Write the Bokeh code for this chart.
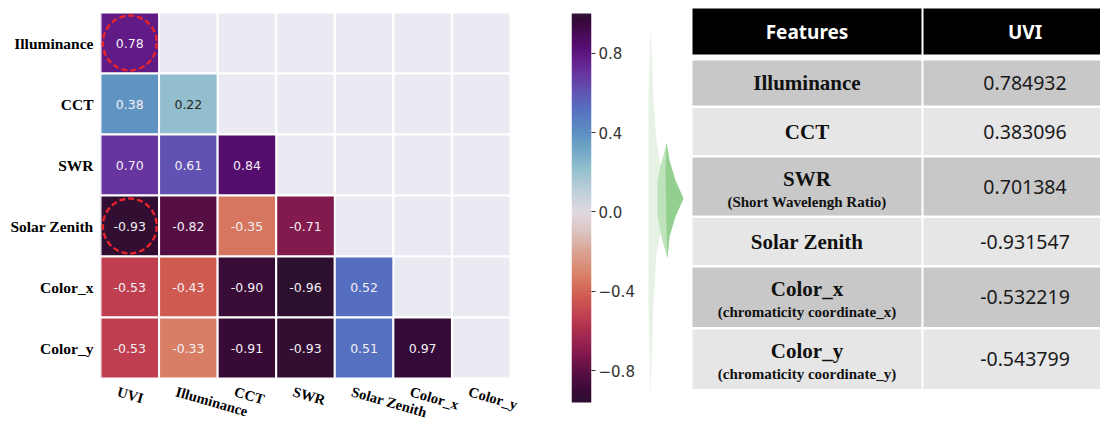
import numpy as np
from bokeh.plotting import figure
from bokeh.layouts import row
from bokeh.models import Range1d, FixedTicker, LinearColorMapper, ColumnDataSource
from bokeh.embed import file_html
from bokeh.resources import INLINE
from bokeh.core.properties import value

# ---------------- data ----------------
row_labels = ["Illuminance", "CCT", "SWR", "Solar Zenith", "Color_x", "Color_y"]
col_labels = ["UVI", "Illuminance", "CCT", "SWR", "Solar Zenith", "Color_x", "Color_y"]

corr_illuminance = [0.78]
corr_cct = [0.38, 0.22]
corr_swr = [0.70, 0.61, 0.84]
corr_solar_zenith = [-0.93, -0.82, -0.35, -0.71]
corr_color_x = [-0.53, -0.43, -0.90, -0.96, 0.52]
corr_color_y = [-0.53, -0.33, -0.91, -0.93, 0.51, 0.97]
corr_lower = [corr_illuminance, corr_cct, corr_swr, corr_solar_zenith, corr_color_x, corr_color_y]

highlight_cells = [("UVI", "Illuminance"), ("UVI", "Solar Zenith")]

cbar_low, cbar_high = -0.96, 1.0
cbar_ticks = [-0.8, -0.4, 0.0, 0.4, 0.8]

table_header = ["Features", "UVI"]
table_features = ["Illuminance", "CCT", "SWR", "Solar Zenith", "Color_x", "Color_y"]
table_notes = ["", "", "(Short Wavelengh Ratio)", "",
               "(chromaticity coordinate_x)", "(chromaticity coordinate_y)"]
table_uvi = [0.784932, 0.383096, 0.701384, -0.931547, -0.532219, -0.543799]

# ---------------- colour map (twilight-like) ----------------
cmap_vals = [-0.96, -0.90, -0.82, -0.71, -0.60, -0.53, -0.43, -0.33, -0.20, -0.10, 0.0,
             0.10, 0.22, 0.30, 0.38, 0.52, 0.61, 0.70, 0.78, 0.84, 0.92, 0.97, 1.0]
cmap_cols = ["#2d1030", "#3a0a38", "#560e42", "#851a4e", "#aa2d4f", "#bf3f50", "#cf5a50",
             "#d87e64", "#d9a393", "#dcc4c0", "#e0d9e1", "#c0d0da", "#93bfcd", "#77aac8",
             "#5f95c2", "#566fc0", "#6153b3", "#67359f", "#611c88", "#560d70", "#420b50",
             "#360838", "#2f1436"]


def h2rgb(h):
    h = h.lstrip("#")
    return [int(h[i:i + 2], 16) for i in (0, 2, 4)]


anchor_rgb = np.array([h2rgb(c) for c in cmap_cols], dtype=float)
palette = []
for t in np.linspace(cbar_low, cbar_high, 256):
    rgb = [int(round(np.interp(t, cmap_vals, anchor_rgb[:, k]))) for k in range(3)]
    palette.append("#%02x%02x%02x" % tuple(rgb))
mapper = LinearColorMapper(palette=palette, low=cbar_low, high=cbar_high)


def text_color_for(v):
    idx = int(round((v - cbar_low) / (cbar_high - cbar_low) * 255))
    idx = min(max(idx, 0), 255)
    r, g, b = [c / 255 for c in h2rgb(palette[idx])]
    lin = [(c / 12.92) if c <= 0.04045 else ((c + 0.055) / 1.055) ** 2.4 for c in (r, g, b)]
    lum = 0.2126 * lin[0] + 0.7152 * lin[1] + 0.0722 * lin[2]
    return "#262626" if lum > 0.408 else "#f4eff4"


# ---------------- layout constants (pixels) ----------------
H = 419
hm_w, cb_w = 560, 80
hm_left, cell_w, cell_h, cells_top = 100, 410 / 7, 61, 12

n_cols, n_rows = len(col_labels), len(row_labels)

# ---------------- heatmap ----------------
xs, ys, vs, labs, tcs = [], [], [], [], []
for i, vals in enumerate(corr_lower):
    for j, v in enumerate(vals):
        xs.append(j + 0.5)
        ys.append(i + 0.5)
        vs.append(v)
        labs.append(f"{v:.2f}")
        tcs.append(text_color_for(v))
src = ColumnDataSource(dict(x=xs, y=ys, v=vs, label=labs, tc=tcs))

x_end = (hm_w - hm_left) / cell_w
y_top = -cells_top / cell_h
y_bot = (H - cells_top) / cell_h
hm = figure(width=hm_w, height=H, x_range=Range1d(0, x_end), y_range=Range1d(y_bot, y_top),
            toolbar_location=None, output_backend="svg", x_axis_location=None,
            min_border_left=hm_left, min_border_right=0, min_border_top=0, min_border_bottom=0)
hm.background_fill_color = "white"
hm.border_fill_color = "white"
hm.outline_line_color = None
hm.grid.visible = False

# empty background cells
bgx = [j + 0.5 for i in range(n_rows) for j in range(n_cols)]
bgy = [i + 0.5 for i in range(n_rows) for j in range(n_cols)]
hm.rect(x=bgx, y=bgy, width=1, height=1, fill_color="#eaeaf2", line_color="white", line_width=2)

hm.rect(x="x", y="y", width=1, height=1, source=src,
        fill_color={"field": "v", "transform": mapper}, line_color="white", line_width=2)
hm.text(x="x", y="y", text="label", text_color="tc", source=src,
        text_align="center", text_baseline="middle",
        text_font=value("DejaVu Sans"), text_font_size="12.5px")

hx = [col_labels.index(c) + 0.5 for c, r in highlight_cells]
hy = [row_labels.index(r) + 0.5 for c, r in highlight_cells]
hm.ellipse(x=hx, y=hy, width=0.92, height=0.9, fill_color=None,
           line_color="#e8242a", line_width=2.4, line_dash="6 3")

hm.yaxis.ticker = FixedTicker(ticks=[i + 0.5 for i in range(n_rows)])
hm.yaxis.major_label_overrides = {i + 0.5: lab for i, lab in enumerate(row_labels)}
hm.yaxis.major_label_text_font = "Liberation Serif"
hm.yaxis.major_label_text_font_style = "bold"
hm.yaxis.major_label_text_font_size = "15.5px"
hm.yaxis.major_label_text_color = "black"
hm.yaxis.axis_line_color = None
hm.yaxis.major_tick_line_color = None
hm.yaxis.minor_tick_line_color = None
hm.yaxis.major_tick_out = 0
hm.yaxis.major_tick_in = 0
hm.yaxis.major_label_standoff = 7

# rotated column labels under the grid
hm.text(x=[j + 0.5 for j in range(n_cols)], y=[n_rows] * n_cols, text=col_labels,
        angle=-0.28, text_align="left", text_baseline="top", x_offset=-10, y_offset=5,
        text_font=value("Liberation Serif"), text_font_style="bold",
        text_font_size="14.5px", text_color="black")

# ---------------- colour bar ----------------
cb_top, cb_bot = 13, 402
ppu = (cb_bot - cb_top) / (cbar_high - cbar_low)
cb = figure(width=cb_w, height=H, x_range=Range1d(0, 1),
            y_range=Range1d(cbar_low - (H - cb_bot) / ppu, cbar_high + cb_top / ppu),
            toolbar_location=None, output_backend="svg", x_axis_location=None,
            y_axis_location="right",
            min_border_left=11, min_border_right=49, min_border_top=0, min_border_bottom=0)
grad = np.linspace(cbar_low, cbar_high, 256).reshape(256, 1)
cb.image(image=[grad], x=0, y=cbar_low, dw=1, dh=cbar_high - cbar_low, color_mapper=mapper)
cb.grid.visible = False
cb.outline_line_color = None
cb.yaxis.ticker = FixedTicker(ticks=cbar_ticks)
cb.yaxis.major_label_overrides = {t: (f"{t:.1f}".replace("-", "\u2212")) for t in cbar_ticks}
cb.yaxis.major_label_text_font = "DejaVu Sans"
cb.yaxis.major_label_text_font_size = "15px"
cb.yaxis.major_label_text_color = "#333333"
cb.yaxis.axis_line_color = None
cb.yaxis.major_tick_line_color = "#333333"
cb.yaxis.major_tick_out = 4
cb.yaxis.major_tick_in = 0
cb.yaxis.minor_tick_line_color = None
cb.yaxis.major_label_standoff = 3

# ---------------- table ----------------
page_left, page_right = hm_w + cb_w, 1100
tb = figure(width=page_right - page_left, height=H,
            x_range=Range1d(page_left, page_right), y_range=Range1d(H, 0),
            toolbar_location=None, output_backend="svg",
            x_axis_location=None, y_axis_location=None, min_border=0)
tb.grid.visible = False
tb.outline_line_color = None

# decorative green arrow (faint sliver + arrow head, darker towards the tip)
tb.patch([650, 653, 656, 660, 663, 666, 669, 675, 683, 675, 669, 667, 663, 660, 656, 653, 650, 648, 648],
         [25, 100, 140, 165, 155, 142, 160, 180, 198, 216, 236, 258, 244, 232, 255, 300, 395, 300, 100],
         fill_color="#cde8c9", fill_alpha=0.5, line_color=None)
tb.patch([660, 663, 666, 669, 675, 683, 675, 669, 667, 663, 660, 657, 657],
         [165, 155, 142, 160, 180, 198, 216, 236, 258, 244, 232, 215, 180],
         fill_color="#a4d79f", fill_alpha=0.6, line_color=None)
tb.patch([666, 669, 675, 683, 675, 669, 667, 666, 665],
         [142, 160, 180, 198, 216, 236, 258, 225, 172],
         fill_color="#7cc478", fill_alpha=0.65, line_color=None)

t_left, t_split, t_right = 692, 922, 1126
head_top, head_h, first_gap, gap = 8, 46, 6, 2.5
row_heights = [45, 47, 58, 47, 59.5, 59.5]
row_fills = ["#c8c8c8", "#e6e6e6"]

head_bottom = head_top + head_h
tb.quad(left=[t_left, t_split + 1], right=[t_split - 1, t_right],
        top=[head_top] * 2, bottom=[head_bottom] * 2, fill_color="black", line_color=None)
c1 = (t_left + t_split - 1) / 2
c2 = (t_split + 1 + t_right) / 2
tb.text(x=[c1, c2], y=[(head_top + head_bottom) / 2] * 2, text=table_header,
        text_color="white", text_font=value("Noto Sans"), text_font_style="bold",
        text_font_size="19px", text_align="center", text_baseline="middle")

tops, bots = [], []
y = head_bottom + first_gap
for h in row_heights:
    tops.append(y)
    bots.append(y + h)
    y += h + gap
fills = [row_fills[i % 2] for i in range(len(row_heights))]
tb.quad(left=[t_left] * 6, right=[t_split - 1] * 6, top=tops, bottom=bots,
        fill_color=fills, line_color=None)
tb.quad(left=[t_split + 1] * 6, right=[t_right] * 6, top=tops, bottom=bots,
        fill_color=fills, line_color=None)

main_y, note_y, note_txt = [], [], []
for i, note in enumerate(table_notes):
    mid = (tops[i] + bots[i]) / 2
    if note:
        main_y.append(mid - 8)
        note_y.append(mid + 15)
        note_txt.append(note)
    else:
        main_y.append(mid)
tb.text(x=[c1] * 6, y=main_y, text=table_features, text_color="#111111",
        text_font=value("Liberation Serif"), text_font_style="bold",
        text_font_size="21px", text_align="center", text_baseline="middle")
tb.text(x=[c1] * len(note_txt), y=note_y, text=note_txt, text_color="#111111",
        text_font=value("Liberation Serif"), text_font_style="bold",
        text_font_size="15px", text_align="center", text_baseline="middle")
tb.text(x=[c2] * 6, y=[(a + b) / 2 for a, b in zip(tops, bots)],
        text=[f"{v:.6f}" for v in table_uvi], text_color="#1a1a1a",
        text_font=value("Noto Sans"), text_font_size="19.5px",
        text_align="center", text_baseline="middle")

layout = row(hm, cb, tb)
open("out.html", "w").write(file_html(layout, INLINE))
